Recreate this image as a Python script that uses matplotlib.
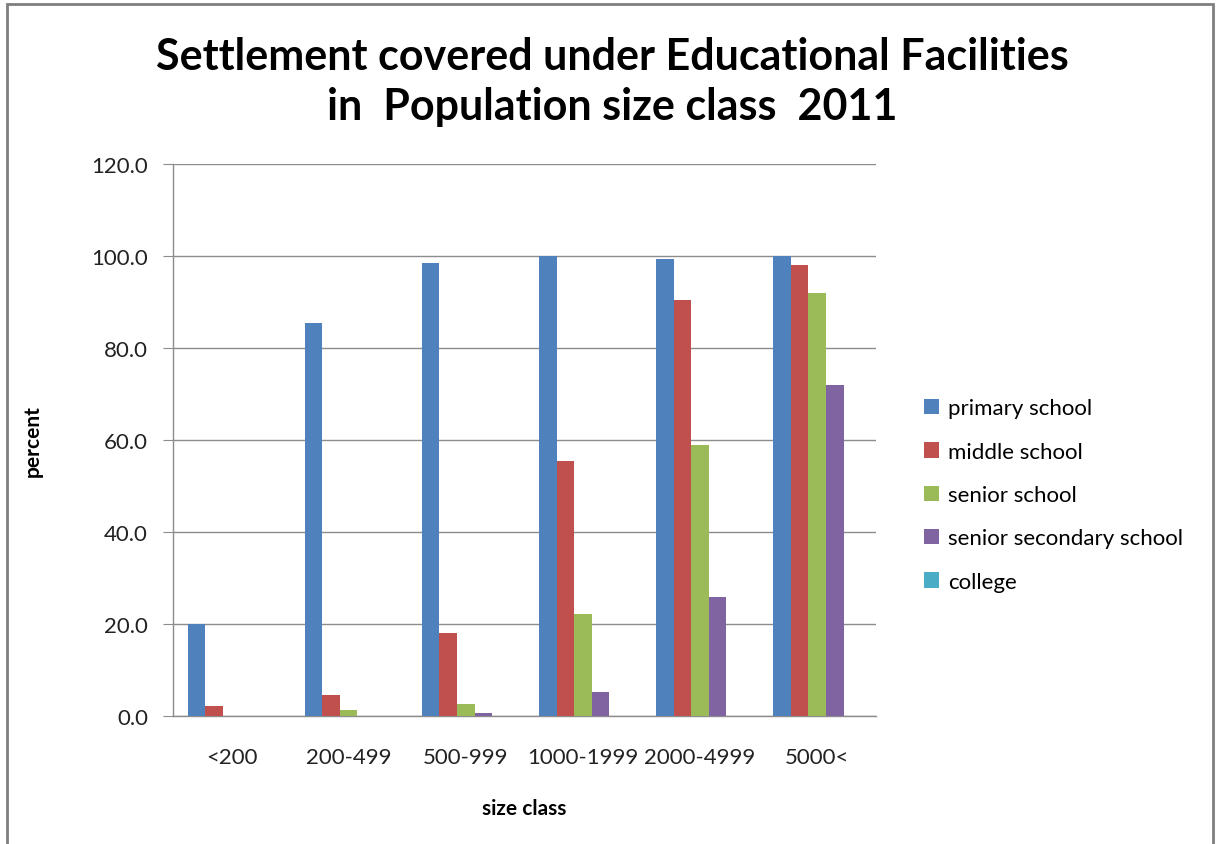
import numpy as np
import matplotlib
matplotlib.use("Agg")
import matplotlib.pyplot as plt
from matplotlib.patches import Rectangle

# Share of settlements with each facility, by population size class (2011)
size_classes = ["<200", "200-499", "500-999", "1000-1999", "2000-4999", "5000<"]
facilities = ["primary school", "middle school", "senior school",
              "senior secondary school", "college"]
primary = [20.0, 85.4, 98.5, 100.0, 99.3, 100.0]
middle = [2.2, 4.6, 18.0, 55.5, 90.5, 98.0]
senior = [0.0, 1.3, 2.7, 22.2, 58.8, 92.0]
senior_secondary = [0.0, 0.0, 0.6, 5.2, 25.8, 72.0]
college = [0.0, 0.0, 0.0, 0.0, 0.0, 0.0]
yticks = [0, 20, 40, 60, 80, 100, 120]

series = [primary, middle, senior, senior_secondary, college]
colors = ["#4F81BD", "#C0504D", "#9BBB59", "#8064A2", "#4BACC6"]

plt.rcParams['font.family'] = ['Lato', 'DejaVu Sans']

fig = plt.figure(figsize=(12.18, 8.45), dpi=100)
ax = fig.add_axes([0.142, 0.1515, 0.577, 0.6535])

x = np.arange(len(size_classes))
width = 0.15
for i, (vals, name, c) in enumerate(zip(series, facilities, colors)):
    offs = (i - 2) * width
    ax.bar(x + offs, vals, width, color=c, label=name, zorder=3)

ax.set_xlim(-0.5, len(size_classes) - 0.5)
ax.set_ylim(0, 120)
ax.set_yticks(yticks)
ax.set_yticklabels([f"{v:.1f}" for v in yticks], fontsize=16, color="#222222")
ax.set_xticks(x)
ax.set_xticklabels(size_classes, fontsize=16, color="#222222")
ax.tick_params(axis="x", length=0, pad=22)
ax.tick_params(axis="y", length=7, color="#8c8c8c", pad=11)
ax.yaxis.grid(True, color="#8c8c8c", linewidth=1.0, zorder=0)
ax.set_axisbelow(True)
for side in ["top", "right"]:
    ax.spines[side].set_visible(False)
for side in ["left", "bottom"]:
    ax.spines[side].set_color("#8c8c8c")
    ax.spines[side].set_linewidth(1.0)

ax.set_xlabel("size class", fontsize=15, fontweight="bold", labelpad=23)
ax.set_ylabel("percent", fontsize=15, fontweight="bold", labelpad=35)

fig.text(0.503, 0.903, "Settlement covered under Educational Facilities\nin  Population size class  2011",
         ha="center", va="center", fontsize=31, fontweight="bold",
         linespacing=1.32)

ax.legend(loc="center left", bbox_to_anchor=(1.04, 0.40), frameon=False,
          fontsize=16, handlelength=0.7, handleheight=0.7,
          handletextpad=0.4, labelspacing=1.05)

# outer chart frame
fig.patches.append(Rectangle((7 / 1218, -0.01), 1206 / 1218, 1.0 - 5 / 845 + 0.01,
                             transform=fig.transFigure, fill=False,
                             edgecolor="#7f7f7f", linewidth=2.0))

fig.savefig("out.png", dpi=100)
